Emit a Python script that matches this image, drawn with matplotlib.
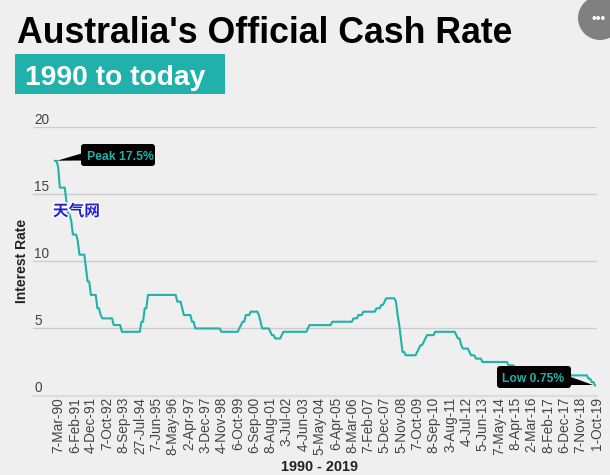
import numpy as np
import matplotlib
matplotlib.use("Agg")
import matplotlib.pyplot as plt
import matplotlib.patheffects as pe
from matplotlib.patches import Circle, FancyBboxPatch, Polygon, Rectangle
from matplotlib.transforms import Affine2D

plt.rcParams["font.family"] = ["Liberation Sans", "DejaVu Sans"]

# Tick labels, one every 10 rows of the table
tick_labels = [
    "7-Mar-90", "6-Feb-91", "4-Dec-91", "7-Oct-92", "8-Sep-93", "27-Jul-94", "7-Jun-95",
    "8-May-96", "2-Apr-97", "3-Dec-97", "4-Nov-98", "6-Oct-99", "6-Sep-00", "8-Aug-01",
    "3-Jul-02", "4-Jun-03", "5-May-04", "6-Apr-05", "8-Mar-06", "7-Feb-07", "5-Dec-07",
    "5-Nov-08", "7-Oct-09", "8-Sep-10", "3-Aug-11", "4-Jul-12", "5-Jun-13", "7-May-14",
    "8-Apr-15", "2-Mar-16", "8-Feb-17", "6-Dec-17", "7-Nov-18", "1-Oct-19",
]
y_ticks = [0, 5, 10, 15, 20]

# Cash rate, as each level and the table row where it starts
run_rates = [
    17.5, 17.0, 15.5, 14.5, 13.5, 13.0, 12.0, 11.5, 10.5, 9.5, 8.5, 7.5, 6.5, 6.0, 5.75, 5.25,
    4.75, 5.5, 6.5, 7.5, 7.0, 6.5, 6.0, 5.5, 5.0, 4.75, 5.0, 5.25, 5.5, 6.0, 6.25, 6.0, 5.5,
    5.0, 4.75, 4.5, 4.25, 4.5, 4.75, 5.0, 5.25, 5.5, 5.75, 6.0, 6.25, 6.5, 6.75, 7.0, 7.25,
    7.0, 6.0, 5.25, 4.25, 3.25, 3.0, 3.25, 3.5, 3.75, 4.0, 4.25, 4.5, 4.75, 4.5, 4.25, 3.75,
    3.5, 3.25, 3.0, 2.75, 2.5, 2.25, 2.0, 1.75, 1.5, 1.25, 1.0, 0.75,
]
run_starts = [
    0, 2, 3, 7, 8, 10, 11, 14, 15, 19, 20, 22, 26, 28, 29, 36,
    41, 53, 55, 57, 75, 78, 79, 84, 86, 102, 113, 114, 115, 117, 120, 125, 126,
    127, 132, 133, 135, 139, 140, 155, 156, 170, 183, 186, 189, 197, 200, 202, 203,
    209, 210, 211, 212, 213, 215, 222, 223, 224, 226, 227, 228, 233, 246, 247, 249,
    250, 254, 255, 258, 262, 278, 282, 292, 295, 327, 329, 331,
]
n_rows = 332

rates = np.repeat(run_rates, np.diff(run_starts + [n_rows]))
rows = np.arange(n_rows)

teal = "#20B2AA"
bg = "#EFEFEF"
W, H = 610, 475

fig = plt.figure(figsize=(W / 100, H / 100), dpi=100, facecolor=bg)
px = Affine2D().scale(1, -1).translate(0, H)  # header and callouts are placed in pixels

# Plot area: 33-597 px across, 127.3-395.5 px down
ax = fig.add_axes([33 / W, 1 - 395.5 / H, 564 / W, 268.2 / H], facecolor=bg)
row_px = 541 / 331
ax.set_xlim((33 - 55) / row_px, (597 - 55) / row_px)
ax.set_ylim(0, 20)

ax.plot(rows, rates, color=teal, lw=1.5, solid_joinstyle="round", zorder=3)

for s in ax.spines.values():
    s.set_visible(False)
ax.axhline(0, color="#DCDCDC", lw=1.6, clip_on=False, zorder=1)
ax.set_yticks(y_ticks)
ax.grid(axis="y", color="#CCCCCC", lw=1)
ax.set_axisbelow(True)
ax.tick_params(axis="y", length=0, pad=-1, labelsize=9.8, labelcolor="#444444")
for lab in ax.get_yticklabels():
    lab.set_ha("left")
    lab.set_va("bottom")

# Labels sit a little to the right of their rows
ax.set_xticks(np.arange(len(tick_labels)) * 10 + 2.2)
ax.set_xticklabels(tick_labels, rotation=90, ha="center", va="top")
ax.tick_params(axis="x", length=0, pad=1.0, labelsize=9.8, labelcolor="#444444")

fig.text(22 / W, 1 - 261 / H, "Interest Rate", rotation=90, ha="center", va="center",
         fontsize=10, fontweight="bold", color="#222222")
fig.text(319.5, 471, "1990 - 2019", transform=px, ha="center", va="baseline",
         fontsize=10.4, fontweight="bold", color="#222222")

# Header
fig.text(17, 43, "Australia's Official Cash Rate", transform=px, ha="left", va="baseline",
         fontsize=25.7, fontweight="bold", color="black")
fig.add_artist(Rectangle((15, 54), 210, 40, transform=px, facecolor=teal, edgecolor="none"))
fig.text(25, 85, "1990 to today", transform=px, ha="left", va="baseline",
         fontsize=20.3, fontweight="bold", color="white")

# Menu button, top right
fig.add_artist(Circle((600, 18), 22, transform=px, facecolor="#808080", edgecolor="none"))
fig.text(598.5, 18.5, "•••", transform=px, ha="center", va="center", fontsize=10, color="white")

# Callouts
fig.add_artist(Polygon([(57, 160.7), (82, 153.3), (82, 160.5)], transform=px,
                       facecolor="black", edgecolor="none", zorder=5))
fig.add_artist(FancyBboxPatch((83, 146), 70, 18, boxstyle="round,pad=2,rounding_size=3", transform=px,
                              facecolor="black", edgecolor="none", zorder=5))
fig.text(87, 159.5, "Peak 17.5%", transform=px, ha="left", va="baseline",
         fontsize=8.85, fontweight="bold", color=teal, zorder=6)

fig.add_artist(Polygon([(593, 385), (570, 376.7), (570, 385)], transform=px,
                       facecolor="black", edgecolor="none", zorder=5))
fig.add_artist(FancyBboxPatch((499, 368), 70, 18, boxstyle="round,pad=2,rounding_size=3", transform=px,
                              facecolor="black", edgecolor="none", zorder=5))
fig.text(502, 382, "Low 0.75%", transform=px, ha="left", va="baseline",
         fontsize=8.75, fontweight="bold", color=teal, zorder=6)

# Watermark
fig.text(76.5, 211, "天气网", transform=px, ha="center", va="center", fontsize=11.3, fontweight="bold",
         family=["Noto Sans CJK SC", "DejaVu Sans"], color="#2222CC", zorder=7,
         path_effects=[pe.withStroke(linewidth=2, foreground="white")])

fig.savefig("out.png", dpi=100, facecolor=bg)
